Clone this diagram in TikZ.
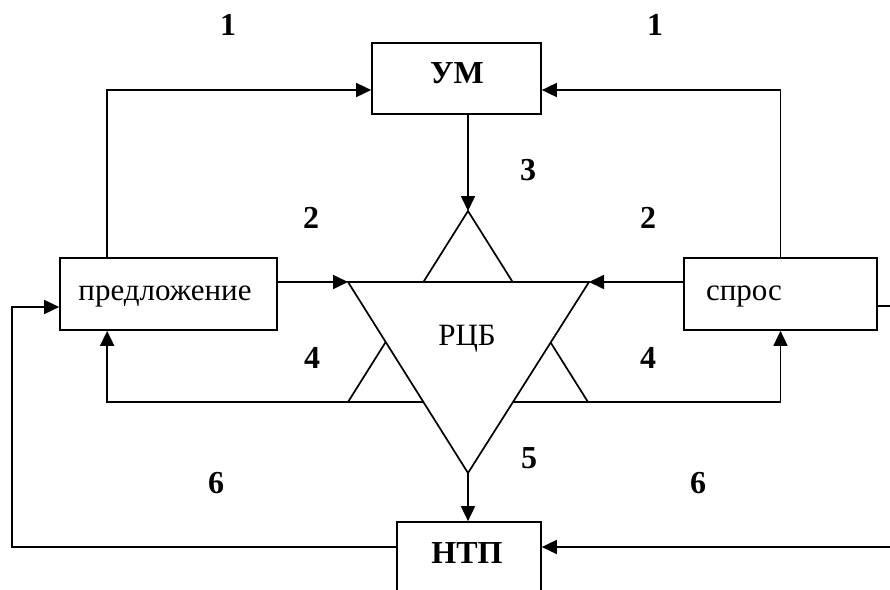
\documentclass[tikz,border=0pt]{standalone}
\usepackage{fontspec}
\setmainfont{Liberation Serif}
\usetikzlibrary{arrows.meta,calc}
\begin{document}
\begin{tikzpicture}[x=1pt,y=-1pt,
  line width=1.7pt,
  box/.style={draw,rectangle,inner sep=0pt,line width=1.7pt},
  arr/.style={-{Triangle[length=15pt,width=14pt]}},
  lbl/.style={font=\fontsize{32}{36}\selectfont\bfseries,anchor=base,inner sep=0pt},
  txt/.style={font=\fontsize{31}{36}\selectfont,anchor=base,inner sep=0pt},
  btxt/.style={font=\fontsize{32}{36}\selectfont\bfseries,anchor=base,inner sep=0pt}]
\clip (0,0) rectangle (890,589);
\fill[white] (0,0) rectangle (890,589);
% boxes
\node[box,minimum width=169pt,minimum height=71pt] (um) at (456.5,78.5) {};
\node[box,minimum width=217pt,minimum height=72pt] (pred) at (168.5,294) {};
\node[box,minimum width=193pt,minimum height=72pt] (spros) at (780.5,294) {};
\node[box,minimum width=144pt,minimum height=80pt] (ntp) at (469,562) {};
% texts
\node[btxt] (tum) at (457,83) {УМ};
\node[txt] (tpred) at (165,300) {предложение};
\node[txt] (tspros) at (744,300) {спрос};
\node[btxt] (tntp) at (467,563) {НТП};
% star
\coordinate (A) at (468,211);
\coordinate (B) at (348,402);
\coordinate (C) at (588,402);
\coordinate (D) at (348,282);
\coordinate (E) at (589,282);
\coordinate (F) at (468,473);
\draw[line join=miter] (A) -- (B) -- (C) -- cycle;
\filldraw[fill=white,line join=miter] (D) -- (E) -- (F) -- cycle;
\node[txt] (trcb) at (467,345) {РЦБ};
% connectors
\draw[arr] (um.south -| A) -- (A);
\draw[arr] (pred.east |- D) -- (D);
\draw[arr] (spros.west |- E) -- (E);
\draw[arr] (B) -| ($(pred.south west)+(48,0)$);
\draw[arr] (C) -| (spros.south);
\draw[arr] ($(pred.north west)+(48,0)$) |- ($(um.west)+(0,11.5)$);
\draw[arr] (spros.north) |- ($(um.east)+(0,11.5)$);
\draw[arr] (F) -- (ntp.north -| F);
\coordinate (lft) at (12,307);
\draw[arr] ($(ntp.west)+(0,-15)$) -| (lft) -- ($(pred.west)+(0,13)$);
\coordinate (rb) at (895,547);
\draw[arr] (rb) -- (ntp.east |- rb);
\coordinate (rt) at (895,306);
\draw (spros.east |- rt) -- (rt);
% labels
\node[lbl] (l1a) at (228,35) {1};
\node[lbl] (l1b) at (655,35) {1};
\node[lbl] (l2a) at (311,228) {2};
\node[lbl] (l2b) at (648,228) {2};
\node[lbl] (l3) at (528,180) {3};
\node[lbl] (l4a) at (312,368) {4};
\node[lbl] (l4b) at (648,368) {4};
\node[lbl] (l5) at (529,468) {5};
\node[lbl] (l6a) at (216,493) {6};
\node[lbl] (l6b) at (698,493) {6};
\end{tikzpicture}
\end{document}
